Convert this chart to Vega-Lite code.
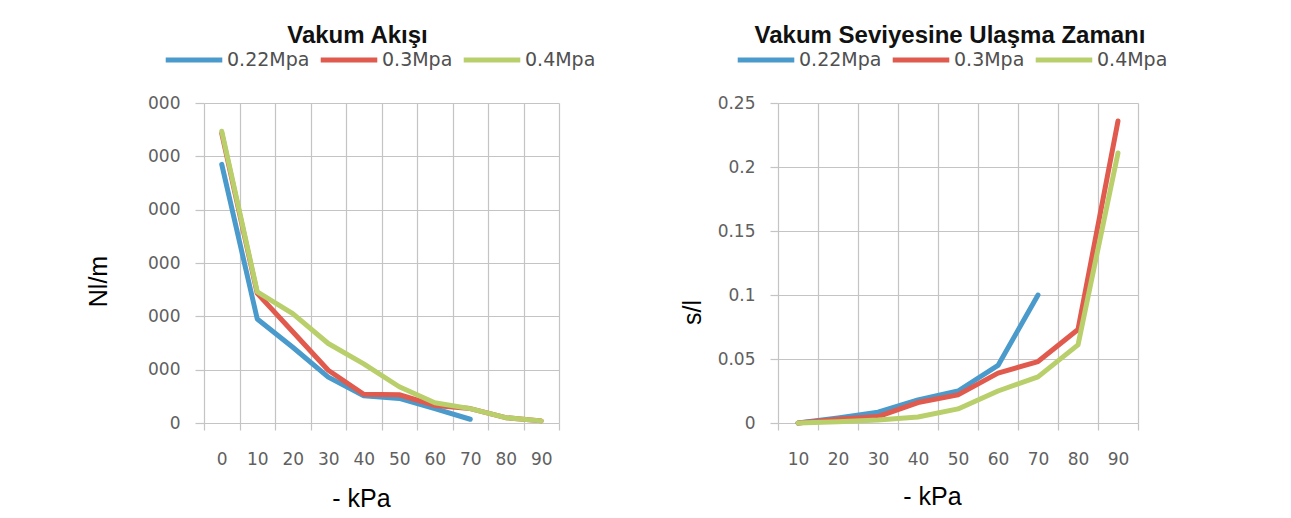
{
  "$schema": "https://vega.github.io/schema/vega-lite/v6.json",
  "padding": {"left": 86, "top": 24, "right": 5, "bottom": 5},
  "background": "white",
  "spacing": 219,
  "bounds": "flush",
  "datasets": {
    "akis": [
      {"kPa": 0, "seri": "0.22Mpa", "deger": 4850},
      {"kPa": 10, "seri": "0.22Mpa", "deger": 1950},
      {"kPa": 20, "seri": "0.22Mpa", "deger": 1420},
      {"kPa": 30, "seri": "0.22Mpa", "deger": 860},
      {"kPa": 40, "seri": "0.22Mpa", "deger": 510},
      {"kPa": 50, "seri": "0.22Mpa", "deger": 460},
      {"kPa": 60, "seri": "0.22Mpa", "deger": 270},
      {"kPa": 70, "seri": "0.22Mpa", "deger": 70},
      {"kPa": 0, "seri": "0.3Mpa", "deger": 5430},
      {"kPa": 10, "seri": "0.3Mpa", "deger": 2430},
      {"kPa": 20, "seri": "0.3Mpa", "deger": 1710},
      {"kPa": 30, "seri": "0.3Mpa", "deger": 990},
      {"kPa": 40, "seri": "0.3Mpa", "deger": 540},
      {"kPa": 50, "seri": "0.3Mpa", "deger": 530},
      {"kPa": 60, "seri": "0.3Mpa", "deger": 330},
      {"kPa": 70, "seri": "0.3Mpa", "deger": 270},
      {"kPa": 80, "seri": "0.3Mpa", "deger": 100},
      {"kPa": 90, "seri": "0.3Mpa", "deger": 40},
      {"kPa": 0, "seri": "0.4Mpa", "deger": 5470},
      {"kPa": 10, "seri": "0.4Mpa", "deger": 2460},
      {"kPa": 20, "seri": "0.4Mpa", "deger": 2050},
      {"kPa": 30, "seri": "0.4Mpa", "deger": 1490},
      {"kPa": 40, "seri": "0.4Mpa", "deger": 1110},
      {"kPa": 50, "seri": "0.4Mpa", "deger": 680},
      {"kPa": 60, "seri": "0.4Mpa", "deger": 380},
      {"kPa": 70, "seri": "0.4Mpa", "deger": 270},
      {"kPa": 80, "seri": "0.4Mpa", "deger": 100},
      {"kPa": 90, "seri": "0.4Mpa", "deger": 40}
    ],
    "zaman": [
      {"kPa": 10, "seri": "0.22Mpa", "deger": 0},
      {"kPa": 20, "seri": "0.22Mpa", "deger": 0.004},
      {"kPa": 30, "seri": "0.22Mpa", "deger": 0.0085},
      {"kPa": 40, "seri": "0.22Mpa", "deger": 0.018},
      {"kPa": 50, "seri": "0.22Mpa", "deger": 0.025},
      {"kPa": 60, "seri": "0.22Mpa", "deger": 0.045},
      {"kPa": 70, "seri": "0.22Mpa", "deger": 0.1},
      {"kPa": 10, "seri": "0.3Mpa", "deger": 0},
      {"kPa": 20, "seri": "0.3Mpa", "deger": 0.003},
      {"kPa": 30, "seri": "0.3Mpa", "deger": 0.005},
      {"kPa": 40, "seri": "0.3Mpa", "deger": 0.016},
      {"kPa": 50, "seri": "0.3Mpa", "deger": 0.022},
      {"kPa": 60, "seri": "0.3Mpa", "deger": 0.039},
      {"kPa": 70, "seri": "0.3Mpa", "deger": 0.048},
      {"kPa": 80, "seri": "0.3Mpa", "deger": 0.073},
      {"kPa": 90, "seri": "0.3Mpa", "deger": 0.236},
      {"kPa": 10, "seri": "0.4Mpa", "deger": 0},
      {"kPa": 20, "seri": "0.4Mpa", "deger": 0.001},
      {"kPa": 30, "seri": "0.4Mpa", "deger": 0.0023},
      {"kPa": 40, "seri": "0.4Mpa", "deger": 0.0047},
      {"kPa": 50, "seri": "0.4Mpa", "deger": 0.011},
      {"kPa": 60, "seri": "0.4Mpa", "deger": 0.025},
      {"kPa": 70, "seri": "0.4Mpa", "deger": 0.036},
      {"kPa": 80, "seri": "0.4Mpa", "deger": 0.061},
      {"kPa": 90, "seri": "0.4Mpa", "deger": 0.211}
    ]
  },
  "hconcat": [
    {
      "width": 355,
      "height": 320,
      "title": {"text": "Vakum Akışı", "frame": "group", "anchor": "middle", "dx": -24, "offset": 0, "dy": 19},
      "data": {"name": "akis"},
      "mark": {"type": "line", "strokeWidth": 5, "strokeCap": "round", "strokeJoin": "round"},
      "encoding": {
        "x": {
          "field": "kPa", "type": "ordinal", "bandPosition": 0.5,
          "scale": {"type": "band", "paddingInner": 0, "paddingOuter": 0},
          "axis": {"title": "- kPa", "tickBand": "extent", "labelAngle": 0, "tickSize": 7, "labelPadding": 21, "titleX": 157, "titleY": 83, "titleBaseline": "alphabetic", "titleAlign": "center"}
        },
        "y": {
          "field": "deger", "type": "quantitative",
          "scale": {"domain": [0, 6000], "nice": false},
          "axis": {"title": "Nl/m", "values": [0, 1000, 2000, 3000, 4000, 5000, 6000], "labelExpr": "datum.value === 0 ? '0' : '000'", "tickSize": 9, "labelPadding": 15, "titleX": -106, "titleY": 178, "titleAngle": -90, "titleAlign": "center", "titleBaseline": "middle"}
        },
        "color": {
          "field": "seri", "type": "nominal",
          "scale": {"domain": ["0.22Mpa", "0.3Mpa", "0.4Mpa"], "range": ["#4a9acb", "#e05a4e", "#b8cf6b"]},
          "legend": {"title": null, "orient": "none", "legendX": -41, "legendY": -74, "direction": "horizontal"}
        }
      }
    },
    {
      "width": 360,
      "height": 320,
      "title": {"text": "Vakum Seviyesine Ulaşma Zamanı", "frame": "group", "anchor": "middle", "dx": -8, "offset": 0, "dy": 19},
      "data": {"name": "zaman"},
      "mark": {"type": "line", "strokeWidth": 5, "strokeCap": "round", "strokeJoin": "round"},
      "encoding": {
        "x": {
          "field": "kPa", "type": "ordinal", "bandPosition": 0.5,
          "scale": {"type": "band", "paddingInner": 0, "paddingOuter": 0},
          "axis": {"title": "- kPa", "tickBand": "extent", "labelAngle": 0, "tickSize": 7, "labelPadding": 21, "titleX": 154, "titleY": 81, "titleBaseline": "alphabetic", "titleAlign": "center"}
        },
        "y": {
          "field": "deger", "type": "quantitative",
          "scale": {"domain": [0, 0.25], "nice": false},
          "axis": {"title": "s/l", "values": [0, 0.05, 0.1, 0.15, 0.2, 0.25], "format": "~g", "tickSize": 8, "labelPadding": 15, "titleX": -86, "titleY": 209, "titleAngle": -90, "titleAlign": "center", "titleBaseline": "middle"}
        },
        "color": {
          "field": "seri", "type": "nominal",
          "scale": {"domain": ["0.22Mpa", "0.3Mpa", "0.4Mpa"], "range": ["#4a9acb", "#e05a4e", "#b8cf6b"]},
          "legend": {"title": null, "orient": "none", "legendX": -43, "legendY": -74, "direction": "horizontal"}
        }
      }
    }
  ],
  "resolve": {"scale": {"color": "independent"}, "legend": {"color": "independent"}},
  "config": {
    "view": {"stroke": null},
    "title": {"font": "Liberation Sans", "fontSize": 24, "fontWeight": "bold", "color": "#111111"},
    "axis": {
      "domain": false,
      "grid": true,
      "gridColor": "#c4c4c4",
      "gridWidth": 1.2,
      "tickColor": "#c4c4c4",
      "tickWidth": 1.2,
      "labelFont": "DejaVu Sans",
      "labelFontSize": 17,
      "labelColor": "#606060",
      "titleFont": "Liberation Sans",
      "titleFontSize": 25,
      "titleFontWeight": "normal",
      "titleColor": "#000000"
    },
    "legend": {
      "symbolType": "stroke",
      "symbolSize": 3200,
      "symbolStrokeWidth": 5,
      "labelFont": "DejaVu Sans",
      "labelFontSize": 19,
      "labelColor": "#505050",
      "labelOffset": 2,
      "columnPadding": 0,
      "labelLimit": 200
    }
  }
}
